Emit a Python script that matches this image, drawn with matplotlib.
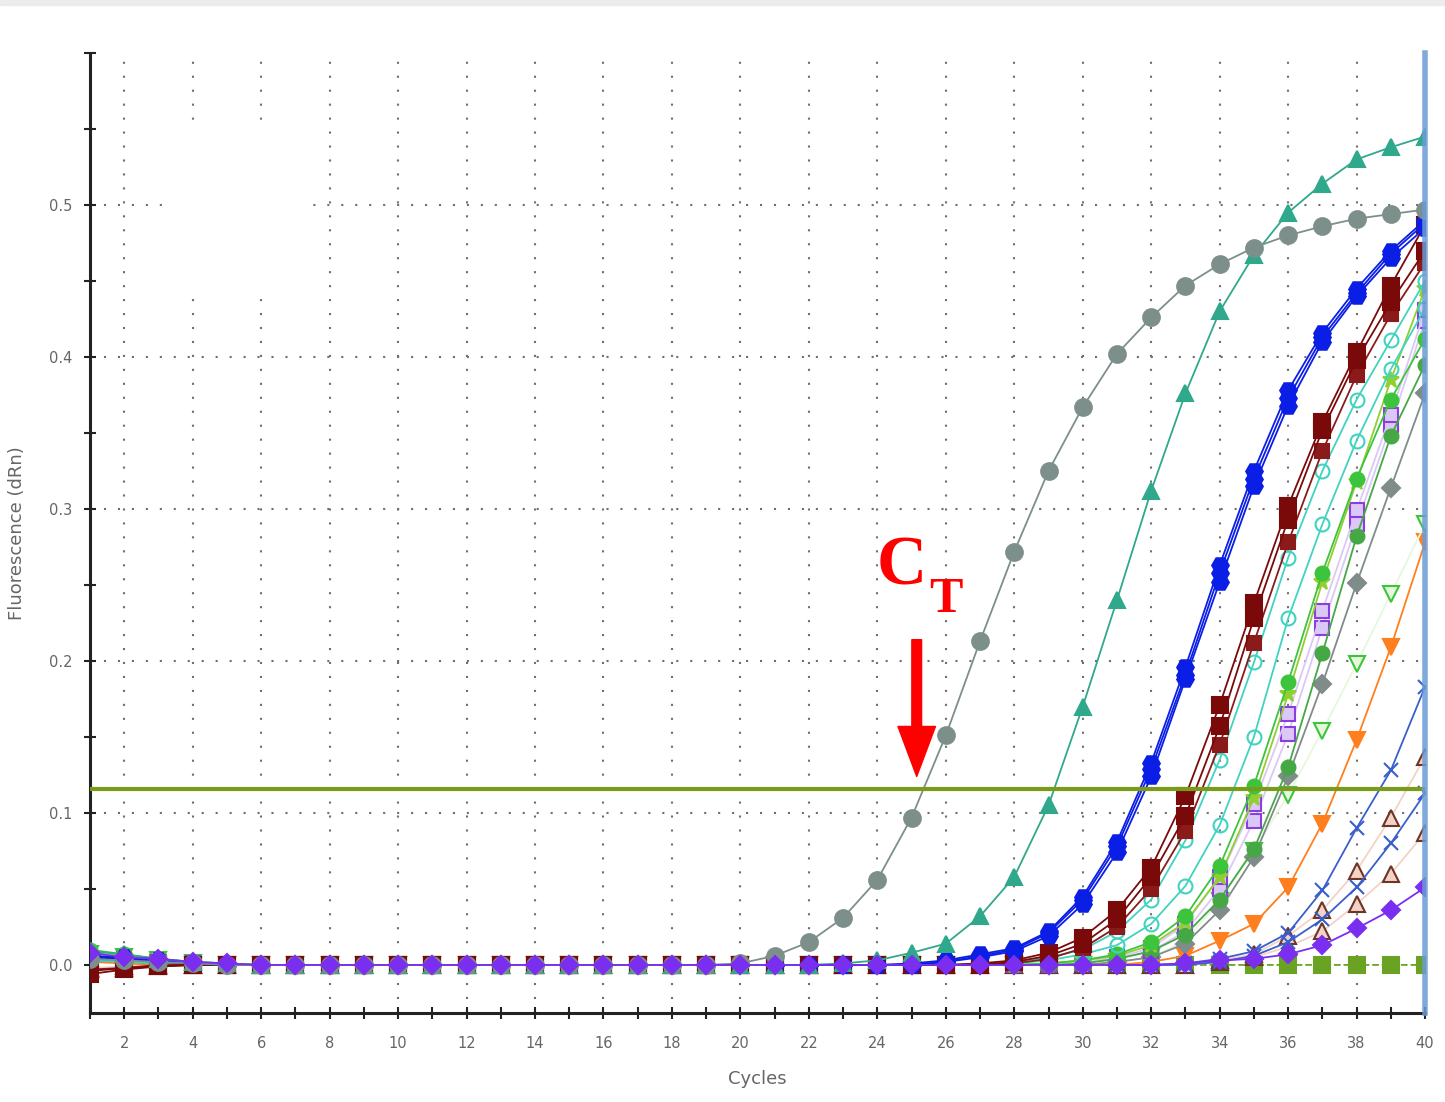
import matplotlib
matplotlib.use("Agg")
import matplotlib.pyplot as plt
from matplotlib.patches import Rectangle

cycles = list(range(1, 41))
threshold = 0.116

Z = [0, 0, 0, 0, 0, 0, 0, 0, 0, 0]

gray_circle = [0.004, 0.003, 0.002, 0.001, 0, 0, 0, 0, 0, 0,
               0, 0, 0, 0, 0, 0, 0, 0, 0, 0.001,
               0.006, 0.015, 0.031, 0.056, 0.097, 0.151, 0.213, 0.272, 0.325, 0.367,
               0.402, 0.426, 0.447, 0.461, 0.472, 0.480, 0.486, 0.491, 0.494, 0.497]
teal_tri = [0.009, 0.007, 0.004, 0.002, 0.001, 0, 0, 0, 0, 0] + Z + \
           [0, 0, 0.001, 0.003, 0.008, 0.014, 0.032, 0.058, 0.105, 0.170,
            0.240, 0.312, 0.376, 0.430, 0.467, 0.495, 0.514, 0.530, 0.538, 0.545]
blue_a = [0.006, 0.005, 0.003, 0.001, 0, 0, 0, 0, 0, 0] + Z + \
         [0, 0, 0, 0, 0.001, 0.003, 0.007, 0.011, 0.022, 0.045,
          0.081, 0.133, 0.196, 0.263, 0.325, 0.378, 0.416, 0.445, 0.470, 0.490]
blue_b = [0.005, 0.004, 0.002, 0.001, 0, 0, 0, 0, 0, 0] + Z + \
         [0, 0, 0, 0, 0, 0.002, 0.005, 0.009, 0.019, 0.040,
          0.074, 0.124, 0.188, 0.252, 0.315, 0.368, 0.410, 0.440, 0.465, 0.485]
blue_c = [0.006, 0.004, 0.003, 0.001, 0, 0, 0, 0, 0, 0] + Z + \
         [0, 0, 0, 0, 0, 0.002, 0.006, 0.010, 0.021, 0.043,
          0.078, 0.129, 0.191, 0.258, 0.320, 0.373, 0.413, 0.442, 0.468, 0.488]
maroon_a = [-0.006, -0.003, -0.001, 0, 0, 0, 0, 0, 0, 0] + Z + \
           [0, 0, 0, 0, 0, 0, 0.001, 0.003, 0.008, 0.018,
            0.036, 0.064, 0.111, 0.171, 0.238, 0.302, 0.357, 0.403, 0.447, 0.487]
maroon_b = [-0.004, -0.002, -0.001, 0, 0, 0, 0, 0, 0, 0] + Z + \
           [0, 0, 0, 0, 0, 0, 0, 0.002, 0.006, 0.014,
            0.030, 0.058, 0.098, 0.157, 0.228, 0.293, 0.352, 0.398, 0.436, 0.470]
maroon_c = [-0.003, -0.002, 0, 0, 0, 0, 0, 0, 0, 0] + Z + \
           [0, 0, 0, 0, 0, 0, 0, 0.001, 0.004, 0.011,
            0.025, 0.050, 0.088, 0.145, 0.212, 0.278, 0.338, 0.388, 0.428, 0.462]
cyan_a = [0.004, 0.003, 0.001, 0, 0, 0, 0, 0, 0, 0] + Z + \
         [0, 0, 0, 0, 0, 0, 0.001, 0.002, 0.005, 0.010,
          0.022, 0.043, 0.082, 0.135, 0.199, 0.268, 0.325, 0.372, 0.411, 0.450]
cyan_b = [0.003, 0.002, 0.001, 0, 0, 0, 0, 0, 0, 0] + Z + \
         [0, 0, 0, 0, 0, 0, 0, 0.001, 0.003, 0.007,
          0.013, 0.027, 0.052, 0.092, 0.150, 0.228, 0.290, 0.345, 0.392, 0.432]
green_a = [0.010, 0.007, 0.004, 0.002, 0.001, 0, 0, 0, 0, 0] + Z + \
          [0, 0, 0, 0, 0, 0, 0, 0, 0.001, 0.003,
           0.007, 0.015, 0.032, 0.065, 0.118, 0.186, 0.258, 0.320, 0.372, 0.412]
green_b = [0.008, 0.006, 0.003, 0.001, 0, 0, 0, 0, 0, 0] + Z + \
          [0, 0, 0, 0, 0, 0, 0, 0, 0.001, 0.003,
           0.006, 0.013, 0.028, 0.058, 0.110, 0.178, 0.252, 0.318, 0.385, 0.445]
green_c = [0.006, 0.004, 0.002, 0.001, 0, 0, 0, 0, 0, 0] + Z + \
          [0, 0, 0, 0, 0, 0, 0, 0, 0, 0.001,
           0.004, 0.009, 0.020, 0.043, 0.076, 0.130, 0.205, 0.282, 0.348, 0.395]
purple_sq_a = [0.005, 0.004, 0.002, 0.001, 0, 0, 0, 0, 0, 0] + Z + \
              [0, 0, 0, 0, 0, 0, 0, 0, 0.001, 0.002,
               0.005, 0.011, 0.027, 0.058, 0.106, 0.165, 0.233, 0.299, 0.362, 0.431]
purple_sq_b = [0.004, 0.003, 0.002, 0, 0, 0, 0, 0, 0, 0] + Z + \
              [0, 0, 0, 0, 0, 0, 0, 0, 0, 0.001,
               0.004, 0.009, 0.022, 0.050, 0.095, 0.152, 0.222, 0.290, 0.355, 0.424]
gray_diamond = [0.005, 0.003, 0.002, 0.001, 0, 0, 0, 0, 0, 0] + Z + Z + \
               [0.002, 0.005, 0.014, 0.036, 0.071, 0.124, 0.185, 0.251, 0.314, 0.376]
green_open_v = [0.007, 0.005, 0.003, 0.001, 0, 0, 0, 0, 0, 0] + Z + Z + \
               [0.002, 0.005, 0.016, 0.042, 0.075, 0.112, 0.154, 0.198, 0.244, 0.290]
orange_v = [0.002, 0.001, 0, 0, 0, 0, 0, 0, 0, 0] + Z + Z + \
           [0, 0.002, 0.006, 0.016, 0.027, 0.051, 0.093, 0.148, 0.209, 0.278]
blue_x_a = [0.004, 0.003, 0.001, 0, 0, 0, 0, 0, 0, 0] + Z + Z + \
           [0, 0, 0.001, 0.004, 0.009, 0.021, 0.049, 0.090, 0.128, 0.183]
blue_x_b = [0.003, 0.002, 0.001, 0, 0, 0, 0, 0, 0, 0] + Z + Z + \
           [0, 0, 0, 0.002, 0.006, 0.015, 0.030, 0.051, 0.080, 0.113]
brown_tri_a = [-0.002, -0.001, 0, 0, 0, 0, 0, 0, 0, 0] + Z + Z + \
              [0, 0, 0, 0.003, 0.007, 0.019, 0.036, 0.062, 0.097, 0.137]
brown_tri_b = [-0.003, -0.002, -0.001, 0, 0, 0, 0, 0, 0, 0] + Z + Z + \
              [0, 0, 0, 0.002, 0.005, 0.012, 0.022, 0.040, 0.060, 0.087]
green_sq = [0.003, 0.002, 0.001, 0, 0, 0, 0, 0, 0, 0] + Z + Z + Z
purple_dia = [0.008, 0.005, 0.004, 0.002, 0.001, 0, 0, 0, 0, 0] + Z + Z + \
             [0, 0, 0.001, 0.003, 0.004, 0.007, 0.013, 0.024, 0.036, 0.051]

# (values, marker, face, edge, size, linestyle)
series = [
    (green_sq, "s", "#6aa324", "#6aa324", 11, "--"),
    (brown_tri_b, "^", "#f2d3c6", "#6e3426", 11, "-"),
    (brown_tri_a, "^", "#f2d3c6", "#6e3426", 11, "-"),
    (blue_x_b, "x", "#3a5fcd", "#3a5fcd", 10, "-"),
    (blue_x_a, "x", "#3a5fcd", "#3a5fcd", 10, "-"),
    (orange_v, "v", "#ff7f1e", "#ff7f1e", 11, "-"),
    (green_open_v, "v", "#e6f8dc", "#3cc43c", 11, "-"),
    (gray_diamond, "D", "#7f8c89", "#7f8c89", 9, "-"),
    (purple_sq_b, "s", "#dcc8f6", "#8a3ee0", 10, "-"),
    (purple_sq_a, "s", "#dcc8f6", "#8a3ee0", 10, "-"),
    (green_c, "o", "#45a845", "#45a845", 10, "-"),
    (green_b, "*", "#8fcf2f", "#8fcf2f", 12, "-"),
    (green_a, "o", "#3cc43c", "#3cc43c", 10, "-"),
    (cyan_b, "o", "none", "#3fd3c0", 10, "-"),
    (cyan_a, "o", "none", "#3fd3c0", 10, "-"),
    (maroon_c, "s", "#8b1a1a", "#8b1a1a", 10, "-"),
    (maroon_b, "s", "#7a0a0a", "#7a0a0a", 11, "-"),
    (maroon_a, "s", "#7a0a0a", "#7a0a0a", 11, "-"),
    (blue_c, "H", "#0b1ee6", "#0b1ee6", 12, "-"),
    (blue_b, "H", "#0b1ee6", "#0b1ee6", 12, "-"),
    (blue_a, "H", "#0b1ee6", "#0b1ee6", 12, "-"),
    (teal_tri, "^", "#2fa88c", "#2fa88c", 11, "-"),
    (gray_circle, "o", "#7d8f8a", "#7d8f8a", 12, "-"),
    (purple_dia, "D", "#7a2ff0", "#7a2ff0", 9, "-"),
]

fig = plt.figure(figsize=(14.45, 11.02), dpi=100)
fig.add_artist(Rectangle((0, 1 - 5 / 1102), 1, 5 / 1102, transform=fig.transFigure,
                         color="#ececec", zorder=0))
ax = fig.add_axes([0.0623, 0.0808, 0.9239, 0.8711])
ax.set_xlim(1, 40)
ax.set_ylim(-0.0316, 0.6)

# dotted grid
grid_kw = dict(color="#6f6f6f", lw=1.5, ls=(0, (1, 5.7)), zorder=1)
for c in range(2, 40, 2):
    ax.axvline(c, **grid_kw)
for v in [0.1, 0.2, 0.3, 0.4, 0.5]:
    ax.axhline(v, **grid_kw)
# blank patch in the upper left
ax.add_patch(Rectangle((3.34, 0.442), 4.03, 0.111, color="white", zorder=1.5))

for vals, mk, fc, ec, ms, ls in series:
    ax.plot(cycles, vals, ls=ls, lw=1.3, color=ec if fc == "none" else fc,
            marker=mk, markersize=ms, markerfacecolor=fc, markeredgecolor=ec,
            markeredgewidth=1.5, zorder=3)

ax.axhline(threshold, color="#7a9b1a", lw=3, zorder=4)
ax.axvline(40, color="#6b9bd6", lw=4, alpha=0.85, zorder=5, clip_on=False)

# C_T annotation
ax.annotate("", xy=(25.15, 0.124), xytext=(25.15, 0.214),
            arrowprops=dict(width=7, headwidth=27, headlength=36, shrink=0,
                            color="#ff0000"), zorder=6)
ax.text(23.98, 0.25, "C", color="#ff0000", fontsize=50, fontweight="bold",
        family="Liberation Serif", va="baseline", ha="left", zorder=6)
ax.text(25.5, 0.232, "T", color="#ff0000", fontsize=36, fontweight="bold",
        family="Liberation Serif", va="baseline", ha="left", zorder=6)

for side in ["top", "right"]:
    ax.spines[side].set_visible(False)
for side in ["left", "bottom"]:
    ax.spines[side].set_linewidth(2.2)
    ax.spines[side].set_color("#222222")

ax.set_xticks(cycles)
ax.set_xticklabels([str(c) if c % 2 == 0 else "" for c in cycles])
yt = [-0.0, 0.05, 0.1, 0.15, 0.2, 0.25, 0.3, 0.35, 0.4, 0.45, 0.5, 0.55, 0.6]
ax.set_yticks(yt)
ax.set_yticklabels(["0.0", "", "0.1", "", "0.2", "", "0.3", "", "0.4", "", "0.5", "", ""])
ax.tick_params(direction="inout", length=9, width=1.5, color="#222222",
               labelsize=10.5, labelcolor="#666666")
ax.tick_params(axis="x", pad=12)
ax.tick_params(axis="y", pad=8)

ax.set_xlabel("Cycles", fontsize=13, color="#666666", labelpad=14)
ax.set_ylabel("Fluorescence (dRn)", fontsize=13, color="#666666", labelpad=17)

fig.savefig("out.png", dpi=100, facecolor="white")
